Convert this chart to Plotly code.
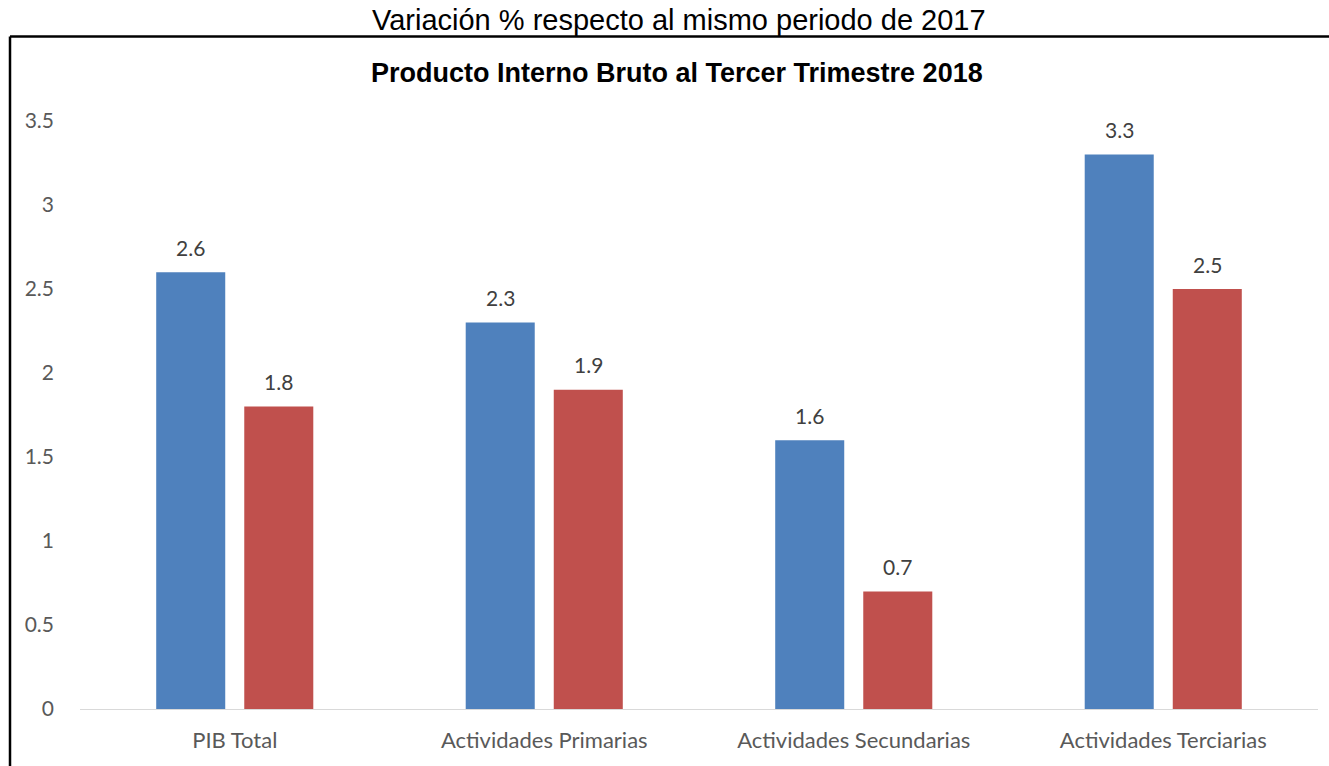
import plotly.graph_objects as go

categories = ["PIB Total", "Actividades Primarias", "Actividades Secundarias", "Actividades Terciarias"]
serie_a = [2.6, 2.3, 1.6, 3.3]
serie_b = [1.8, 1.9, 0.7, 2.5]
y_ticks = [0, 0.5, 1, 1.5, 2, 2.5, 3, 3.5]
y_tick_text = ["0", "0.5", "1", "1.5", "2", "2.5", "3", "3.5"]

blue = "#4F81BD"
red = "#C0504D"
tick_font = dict(family="Lato, Calibri, sans-serif", size=21, color="#595959")
xtick_font = dict(family="Lato, Calibri, sans-serif", size=22, color="#595959")

fig = go.Figure()
fig.add_trace(go.Bar(x=categories, y=serie_a, marker=dict(color=blue, line=dict(width=0)), name="A"))
fig.add_trace(go.Bar(x=categories, y=serie_b, marker=dict(color=red, line=dict(width=0)), name="B"))

annotations = []
for vals, shift in ((serie_a, -44), (serie_b, 44)):
    for c, v in zip(categories, vals):
        annotations.append(dict(x=c, y=v, text=f"{v:.1f}", showarrow=False, xshift=shift,
                                yshift=25, yanchor="middle", xanchor="center",
                                font=dict(family="Lato, Calibri, sans-serif", size=21, color="#404040")))

annotations.append(dict(xref="paper", yref="paper", x=(679 - 80) / 1238, y=(709 - 20) / 588,
                        text="Variación % respecto al mismo periodo de 2017", showarrow=False,
                        xanchor="center", yanchor="middle",
                        font=dict(family="Liberation Sans, Arial", size=29, color="#000000")))
annotations.append(dict(xref="paper", yref="paper", x=(677 - 80) / 1238, y=(709 - 73) / 588,
                        text="<b>Producto Interno Bruto al Tercer Trimestre 2018</b>", showarrow=False,
                        xanchor="center", yanchor="middle",
                        font=dict(family="Liberation Sans, Arial", size=27, color="#000000")))

x_left = (10 - 80) / 1238
y_top = (709 - 36.5) / 588
shapes = [
    dict(type="line", xref="paper", yref="paper", x0=x_left, x1=x_left, y0=-0.2, y1=y_top,
         line=dict(color="#000000", width=2.5)),
    dict(type="line", xref="paper", yref="paper", x0=x_left, x1=1.1, y0=y_top, y1=y_top,
         line=dict(color="#000000", width=2.5)),
]

fig.update_layout(
    width=1329, height=766,
    margin=dict(l=80, r=11, t=121, b=57, autoexpand=False),
    paper_bgcolor="white", plot_bgcolor="white",
    barmode="group", bargap=0.431, bargroupgap=0.216,
    showlegend=False,
    annotations=annotations,
    shapes=shapes,
    xaxis=dict(showline=True, linecolor="#D9D9D9", linewidth=1, ticks="", tickfont=xtick_font,
               ticklabelstandoff=12, showgrid=False, zeroline=False, fixedrange=True),
    yaxis=dict(range=[0, 3.5], tickvals=y_ticks, ticktext=y_tick_text, showgrid=False,
               zeroline=False, showline=False, tickfont=tick_font, ticklabelstandoff=25,
               fixedrange=True),
)

fig.write_html("out.html")
